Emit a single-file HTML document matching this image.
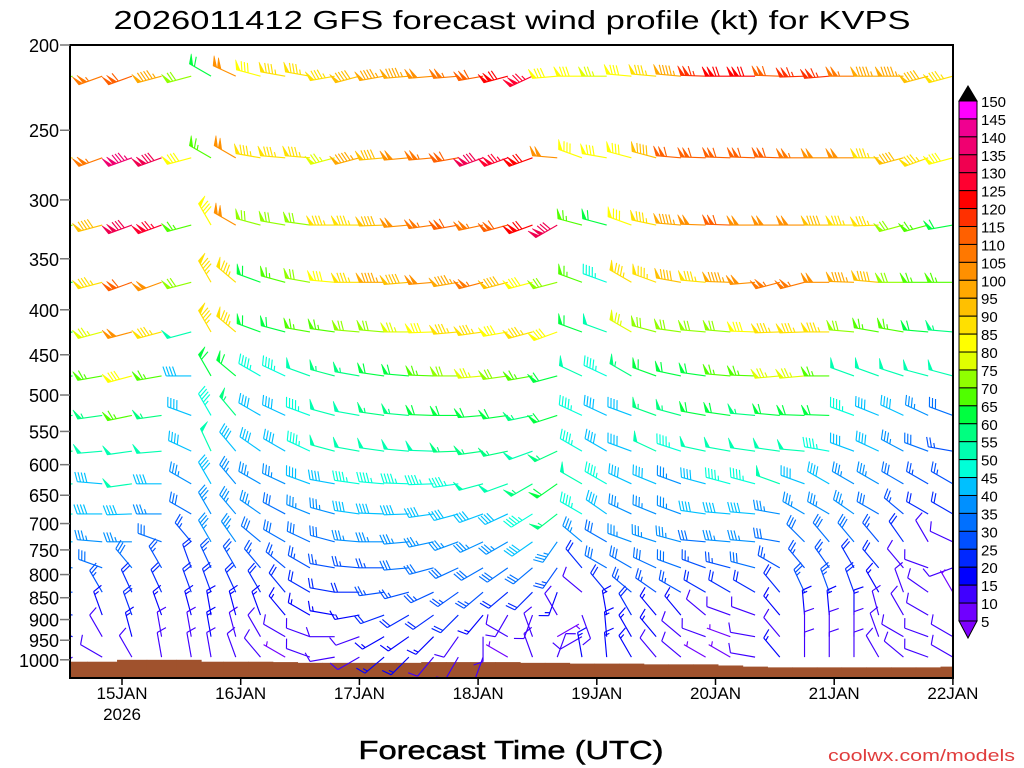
<!DOCTYPE html>
<html><head><meta charset="utf-8"><title>GFS wind profile KVPS</title>
<style>
html,body{margin:0;padding:0;background:#fff;}
svg{display:block;font-family:"Liberation Sans",sans-serif;}
</style></head>
<body>
<svg id="chart" width="1024" height="768" viewBox="0 0 1024 768" xmlns="http://www.w3.org/2000/svg">
<defs><clipPath id="plotclip"><rect x="70" y="45" width="883" height="633"/></clipPath></defs>
<text x="512" y="29" text-anchor="middle" font-size="26" textLength="797" lengthAdjust="spacingAndGlyphs" fill="#000">2026011412 GFS forecast wind profile (kt) for KVPS</text>
<g id="ground"></g>
<g id="barbs" clip-path="url(#plotclip)"></g>
<rect x="70" y="45" width="883" height="633" fill="none" stroke="#000" stroke-width="2"/>
<g id="yaxis"></g>
<g id="xaxis"></g>
<g id="cbar"></g>
<text x="511" y="759" text-anchor="middle" font-size="26" textLength="305" lengthAdjust="spacingAndGlyphs" stroke="#000" stroke-width="0.5" fill="#000">Forecast Time (UTC)</text>
<text x="1015" y="761" text-anchor="end" font-size="17" textLength="187" lengthAdjust="spacingAndGlyphs" fill="#e03c3c">coolwx.com/models</text>
</svg>
<script>
// ---- data ----
const hours = [-10,-4,2,8,14,18,23,28,33,38,43,48,53,58,63,68,73,78,83,88,93,98,103,108,113,118,123,128,133,138,143,148,153,158,163,168];
const levels = [250,300,350,400,450,500,550,600,650,700,750,800,850,900,950,1000];
const spd250=[70,105,110,95,70,60,100,80,85,85,85,90,95,95,100,105,110,120,125,80,80,75,80,85,95,115,120,120,110,115,115,105,95,95,90,85];
const dir250=[255,250,250,255,255,300,295,285,280,280,260,255,260,265,265,265,260,255,245,265,270,270,275,275,275,272,270,270,272,268,265,270,270,270,255,255];
const spd300=[85,105,135,130,80,65,100,85,85,85,75,95,90,100,105,110,130,125,120,100,80,80,80,90,110,110,110,110,110,105,100,100,85,90,85,80];
const dir300=[265,250,250,250,255,300,300,280,275,275,255,255,265,265,265,260,250,250,250,275,290,280,285,285,275,272,272,272,272,270,270,270,270,255,250,255];
const spd350=[70,90,130,125,65,80,100,70,70,70,85,85,90,100,105,110,105,110,120,130,65,60,80,85,95,100,110,100,100,100,90,85,85,70,65,60];
const dir350=[255,255,250,250,255,330,300,285,280,278,270,270,268,265,262,260,258,255,250,240,285,285,290,282,275,272,272,270,270,270,270,270,268,255,255,260];
const spd400=[60,85,110,100,70,85,85,60,65,70,80,85,95,90,100,95,105,90,80,70,65,45,85,85,90,85,95,100,105,105,100,95,90,70,65,65];
const dir400=[270,255,250,250,255,330,310,290,285,280,275,270,270,265,265,260,255,255,255,255,290,290,300,290,280,275,272,265,255,255,270,272,275,270,270,270];
const spd450=[60,75,100,85,50,85,85,60,60,65,65,70,70,75,80,85,85,80,85,80,60,50,75,70,70,70,70,80,85,85,85,70,65,65,60,55];
const dir450=[260,255,255,255,255,330,310,290,285,280,278,275,275,270,268,265,262,260,255,250,290,290,300,285,278,275,275,272,268,268,270,275,280,280,275,275];
const spd500=[60,65,80,65,40,60,60,45,45,50,55,55,60,60,65,70,75,70,65,60,50,45,55,60,60,60,65,65,75,75,65,50,50,50,50,50];
const dir500=[265,260,255,260,270,330,310,300,295,290,285,280,278,275,272,270,265,262,260,255,295,295,300,290,282,278,275,272,265,265,270,290,290,288,285,285];
const spd550=[55,55,65,55,40,45,55,40,40,45,50,50,55,55,60,60,60,60,55,60,45,40,40,55,55,60,60,55,60,60,60,45,40,40,35,30];
const dir550=[265,262,258,262,290,330,320,300,295,290,285,280,278,275,272,270,265,262,258,252,295,295,290,290,285,280,278,275,275,272,272,290,292,295,295,290];
const spd600=[55,50,50,50,40,50,40,40,40,45,50,50,50,50,50,55,55,55,50,55,45,40,40,50,45,50,50,50,50,50,45,40,40,35,30,25];
const dir600=[270,265,262,265,295,335,320,305,300,295,285,280,278,275,272,268,262,258,250,245,300,300,290,295,288,282,280,278,278,275,280,290,295,298,290,280];
const spd650=[50,40,50,40,35,40,35,35,35,40,40,45,45,45,45,45,50,50,55,60,50,45,40,40,35,40,45,45,50,40,40,35,35,30,25,25];
const dir650=[265,275,262,270,300,330,320,300,295,290,280,278,275,272,268,262,255,250,240,235,300,300,295,292,290,285,285,285,290,290,300,300,300,300,300,300];
const spd700=[45,40,40,35,30,35,35,35,30,35,35,40,40,40,40,40,40,40,45,55,45,40,35,35,35,40,40,40,35,35,35,35,30,25,20,20];
const dir700=[265,270,268,270,300,330,320,305,298,292,285,278,272,268,262,255,250,245,238,232,300,305,295,292,290,278,275,275,280,300,300,305,300,310,300,300];
const spd750=[40,35,35,30,25,35,35,30,30,30,30,35,35,35,35,35,35,35,40,35,35,30,35,35,35,30,35,35,30,30,30,30,25,20,10,10];
const dir750=[270,275,270,290,320,330,325,310,300,295,285,275,270,265,258,250,245,240,235,215,310,300,290,288,285,275,275,275,280,315,320,320,320,325,330,295];
const spd800=[30,30,30,25,20,25,25,25,25,25,25,25,25,30,30,30,30,30,30,25,20,30,30,30,30,25,25,30,25,25,25,20,20,10,10,10];
const dir800=[275,290,320,330,340,335,330,320,310,300,280,275,270,265,255,245,240,235,230,215,320,300,300,295,290,290,285,285,300,320,325,330,320,320,290,250];
const spd850=[25,25,20,20,20,20,20,20,20,20,20,20,25,25,25,25,25,20,20,15,10,20,25,25,25,20,20,20,20,25,25,20,15,10,10,5];
const dir850=[270,330,335,335,340,340,335,330,320,300,280,270,262,255,245,235,230,230,225,200,310,320,310,305,300,300,300,300,320,335,340,340,330,340,305,330];
const spd900=[20,15,20,15,15,15,15,15,15,15,15,15,20,20,20,20,15,10,10,10,10,15,20,15,15,10,10,10,15,15,15,15,10,10,10,5];
const dir900=[280,340,340,340,345,350,345,340,320,300,280,260,250,240,235,225,220,210,200,330,160,350,330,320,320,310,290,290,320,355,355,360,345,330,300,20];
const spd950=[15,10,15,10,10,15,10,10,10,10,10,10,15,15,15,10,10,10,10,5,10,15,15,15,10,10,5,10,10,10,10,10,10,10,10,10];
const dir950=[290,330,345,350,350,350,345,330,300,290,270,250,240,235,225,215,180,300,340,60,240,355,330,320,310,290,290,280,320,360,360,360,340,300,290,300];
const spd1000=[10,10,10,10,10,10,10,10,5,10,10,10,15,15,10,10,10,5,10,10,15,15,15,10,10,5,5,10,15,10,10,10,10,10,10,10];
const dir1000=[240,300,330,350,350,350,340,320,300,290,260,240,230,225,220,210,200,300,340,20,350,355,330,320,310,300,300,280,320,360,360,360,330,310,290,300];
const sfcPres=[1005,1005,1000,1000,1000,1005,1005,1005,1006,1008,1008,1008,1008,1008,1006,1006,1006,1006,1008,1008,1010,1010,1010,1012,1012,1012,1015,1018,1020,1020,1020,1020,1020,1020,1020,1018];
const levelSpd=[spd250,spd300,spd350,spd400,spd450,spd500,spd550,spd600,spd650,spd700,spd750,spd800,spd850,spd900,spd950,spd1000];
const levelDir=[dir250,dir300,dir350,dir400,dir450,dir500,dir550,dir600,dir650,dir700,dir750,dir800,dir850,dir900,dir950,dir1000];
const yTickLabels=[200,250,300,350,400,450,500,550,600,650,700,750,800,850,900,950,1000];
const dayLabels=["15JAN","16JAN","17JAN","18JAN","19JAN","20JAN","21JAN","22JAN"];
const dayHours=[0,24,48,72,96,120,144,168];
const cbarValues=[150,145,140,135,130,125,120,115,110,105,100,95,90,85,80,75,70,65,60,55,50,45,40,35,30,25,20,15,10,5];
const cbarColors=["#ff00ff","#f00090","#f00070","#f00050","#ff0030","#ff0000","#ff3000","#ff6000","#ff7800","#ff9000","#ffa800","#ffc000","#ffe000","#ffff00","#e0ff00","#90ff00","#50ff00","#00ff40","#00ff80","#00ffb0","#00ffd8","#00c0ff","#0090ff","#0070ff","#0050ff","#0028ff","#0000ff","#4000ff","#7000ff"];
const belowColor="#8000ff";

// ---- scales ----
const NS="http://www.w3.org/2000/svg";
function yAxis(p){return 45+382*Math.log(p/200);}
function yBarb(p){return yAxis(p-7-26*(1000-p)/750);}
function xTime(h){return 122+h*118.7/24;}
function colorFor(s){
  if(s<5) return belowColor;
  const b=Math.min(145,Math.floor(s/5)*5);
  const idx=cbarValues.indexOf(b+5);
  return idx>=0 ? cbarColors[idx] : cbarColors[0];
}
function mk(tag,attrs){const e=document.createElementNS(NS,tag);for(const k in attrs)e.setAttribute(k,attrs[k]);return e;}

// ---- ground ----
const gGround=document.getElementById('ground');
for(let i=0;i<hours.length;i++){
  const x0=i===0?70:(xTime(hours[i-1])+xTime(hours[i]))/2;
  const x1=i===hours.length-1?953:(xTime(hours[i])+xTime(hours[i+1]))/2;
  const yt=yAxis(sfcPres[i]);
  const r=mk('rect',{x:x0,y:yt,width:x1-x0+0.5,height:678-yt,fill:'#a0522d'});
  
  
  gGround.appendChild(r);
}

// ---- barbs ----
const gB=document.getElementById('barbs');
const L=25,FL=10,SP=3.2,FW=4;
function barb(x,y,spd,dir){
  const col=colorFor(spd);
  const g=mk('g',{stroke:col,fill:col,'stroke-width':1.15,'stroke-linecap':'butt'});
  
  
  const r=dir*Math.PI/180, ux=Math.sin(r), uy=-Math.cos(r);
  const tx=x+ux*L, ty=y+uy*L;
  let fx=-uy+0.35*ux, fy=ux+0.35*uy; const n=Math.hypot(fx,fy); fx=fx/n*FL; fy=fy/n*FL;
  const P=d=>[tx-ux*d,ty-uy*d];
  const staff=mk('line',{x1:x,y1:y,x2:tx,y2:ty});
  
  
  g.appendChild(staff);
  const s=Math.round(spd/5)*5;
  let flags=Math.floor(s/50), rem=s-flags*50, full=Math.floor(rem/10), half=(rem%10)>=5;
  let pos=0;
  for(let k=0;k<flags;k++){
    const a=P(pos),b=P(pos+FW);
    const pg=mk('polygon',{points:`${a[0]},${a[1]} ${a[0]+fx},${a[1]+fy} ${b[0]},${b[1]}`,'stroke-width':0.6});
    
    
    g.appendChild(pg);
    pos+=FW+0.8;
  }
  if(flags>0) pos+=1;
  for(let k=0;k<full;k++){
    const a=P(pos);
    const ln=mk('line',{x1:a[0],y1:a[1],x2:a[0]+fx,y2:a[1]+fy});
    
    
    g.appendChild(ln);
    pos+=SP;
  }
  if(half){
    if(pos===0) pos=SP;
    const a=P(pos);
    const ln=mk('line',{x1:a[0],y1:a[1],x2:a[0]+fx/2,y2:a[1]+fy/2});
    
    
    g.appendChild(ln);
  }
  gB.appendChild(g);
}
for(let li=0;li<levels.length;li++){
  const y=yBarb(levels[li]);
  for(let i=0;i<hours.length;i++){
    barb(xTime(hours[i]),y,levelSpd[li][i],levelDir[li][i]);
  }
}

// ---- y axis ----
const gY=document.getElementById('yaxis');
yTickLabels.forEach(p=>{
  const y=yAxis(p);
  const t=mk('line',{x1:60,y1:y,x2:70,y2:y,stroke:'#777','stroke-width':1.5});
  
  
  gY.appendChild(t);
  const tx=mk('text',{x:59,y:y+7,'text-anchor':'end','font-size':18,fill:'#000'});
  tx.textContent=p;
  
  
  gY.appendChild(tx);
});

// ---- x axis ----
const gX=document.getElementById('xaxis');
dayHours.forEach((h,i)=>{
  const x=xTime(h);
  const t=mk('line',{x1:x,y1:678,x2:x,y2:685,stroke:'#000','stroke-width':1.5});
  
  
  gX.appendChild(t);
  const tx=mk('text',{x:x,y:699,'text-anchor':'middle','font-size':17,fill:'#000'});
  tx.textContent=dayLabels[i];
  
  
  gX.appendChild(tx);
});
const yr=mk('text',{x:xTime(0),y:720,'text-anchor':'middle','font-size':17,fill:'#000'});
yr.textContent='2026';


gX.appendChild(yr);

// ---- color bar ----
const gC=document.getElementById('cbar');
const cbTop=101, cbStep=(621-101)/29;
const triTop=mk('polygon',{points:`959,${cbTop} 977,${cbTop} 968,86`,fill:'#000',stroke:'#000'});


gC.appendChild(triTop);
for(let i=0;i<cbarColors.length;i++){
  const r=mk('rect',{x:959,y:cbTop+i*cbStep,width:18,height:cbStep,fill:cbarColors[i],stroke:'#000','stroke-width':1});
  
  
  gC.appendChild(r);
}
const triBot=mk('polygon',{points:`959,621 977,621 968,638`,fill:belowColor,stroke:'#000'});


gC.appendChild(triBot);
cbarValues.forEach((v,i)=>{
  const tx=mk('text',{x:981,y:cbTop+i*cbStep+6,'font-size':15,fill:'#000'});
  tx.textContent=v;
  
  
  gC.appendChild(tx);
});
</script>
</body></html>
